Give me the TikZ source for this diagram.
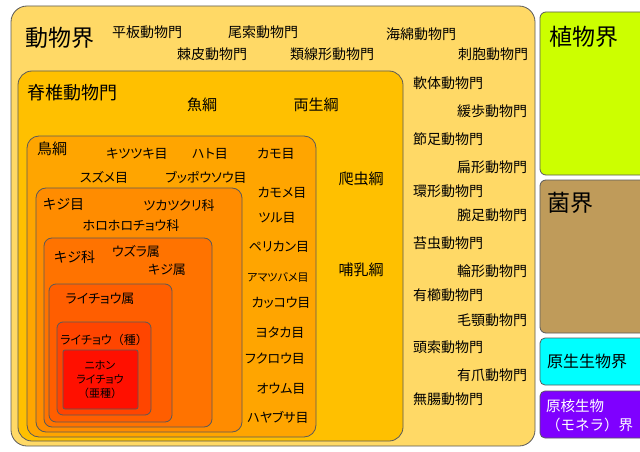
\documentclass[tikz,border=0pt]{standalone}
\usepackage{fontspec}
\setmainfont{Noto Sans CJK JP}[RawFeature={+palt}]
\newfontfamily\fullw{Noto Sans CJK JP}
\usetikzlibrary{positioning}
\definecolor{edge}{HTML}{5A5A5A}
\definecolor{animal}{HTML}{FFD966}
\definecolor{vert}{HTML}{FFC000}
\definecolor{bird}{HTML}{FFA500}
\definecolor{galli}{HTML}{FF8C00}
\definecolor{phasi}{HTML}{FF7300}
\definecolor{lagop}{HTML}{FF5E00}
\definecolor{mutus}{HTML}{FF4500}
\definecolor{japon}{HTML}{FF1000}
\definecolor{plant}{HTML}{CCFF00}
\definecolor{fungi}{HTML}{BF9B5A}
\definecolor{protist}{HTML}{00FFFF}
\definecolor{monera}{HTML}{7F00FF}
\tikzset{
  taxbox/.style={draw=edge,line width=0.8pt,fill=#1},
  kingdom/.style={font=\fontsize{23}{24}\selectfont,inner sep=0pt},
  phylum/.style={font=\fontsize{14}{15}\selectfont,inner sep=0pt},
  klass/.style={font=\fontsize{15}{16}\selectfont,inner sep=0pt},
  order/.style={font=\fontsize{13}{14}\selectfont,inner sep=0pt},
  tiny/.style={font=\fontsize{11}{14}\selectfont,inner sep=0pt,align=center},
}
\begin{document}
\begin{tikzpicture}[x=1pt,y=-1pt]
  \useasboundingbox (0,0) rectangle (640,452);
  \fill[white] (0,0) rectangle (640,452);
  % the other kingdoms, stacked on the right edge
  \draw[taxbox=plant,rounded corners=6pt] (540,12) rectangle (646,175);
  \draw[taxbox=fungi,rounded corners=6pt] (540,180) rectangle (646,333);
  \draw[taxbox=protist,rounded corners=5pt] (540,338) rectangle (646,385);
  \draw[taxbox=monera,rounded corners=5pt] (540,391) rectangle (646,438);
  % nested ranks down to the subspecies
  \draw[taxbox=animal,rounded corners=16pt] (11,6) rectangle (535,446);
  \draw[taxbox=vert,rounded corners=14pt] (18,71) rectangle (403,441);
  \draw[taxbox=bird,rounded corners=12pt] (27,136) rectangle (316,437);
  \draw[taxbox=galli,rounded corners=10pt] (36,188) rectangle (242,432);
  \draw[taxbox=phasi,rounded corners=8pt] (44,238) rectangle (212,427);
  \draw[taxbox=lagop,rounded corners=7pt] (49,284) rectangle (172,422);
  \draw[taxbox=mutus,rounded corners=6pt] (57,322) rectangle (151,415);
  \draw[taxbox=japon,rounded corners=2pt] (63,350) rectangle (138,409);

  \node[kingdom,anchor=west] (animalk) at (25,38) {動物界};
  \node[kingdom,anchor=west] (plantk) at (549,37) {植物界};
  \node[kingdom,anchor=west] (fungik) at (547,203) {菌界};
  \node[klass,font=\fontsize{16}{17}\selectfont,anchor=west] (protistk) at (547,361) {原生生物界};
  \node[klass,font=\fullw\fontsize{14.5}{19}\selectfont,anchor=north west,align=left,text=white] (monerak) at (546,399) {原核生物\\（モネラ）界};

  % phyla along the top
  \node[phylum] (placo) at (147,32) {平板動物門};
  \node[phylum] (uro) at (263,32) {尾索動物門};
  \node[phylum] (pori) at (421,34) {海綿動物門};
  \node[phylum] (echino) at (212,54) {棘皮動物門};
  \node[phylum] (nemato) at (332,54) {類線形動物門};
  \node[phylum] (cnida) at (493,54) {刺胞動物門};
  % phyla down the right side
  \foreach \t/\x/\y [count=\i] in {軟体動物門/413/83,緩歩動物門/457/111,
      節足動物門/413/139,扁形動物門/457/167,環形動物門/413/191,
      腕足動物門/457/215,苔虫動物門/413/243,輪形動物門/457/271,
      有櫛動物門/413/295,毛顎動物門/457/320,頭索動物門/413/347,
      有爪動物門/457/375,無腸動物門/413/399}
    \node[phylum,anchor=west] (phy\i) at (\x,\y) {\t};

  \node[klass,font=\fontsize{18}{19}\selectfont,anchor=west] (vertp) at (27,93) {脊椎動物門};
  \node[klass] (fish) at (202,105) {魚綱};
  \node[klass] (amphi) at (316,105) {両生綱};
  \node[klass] (rept) at (361,179) {爬虫綱};
  \node[klass] (mamm) at (361,270) {哺乳綱};

  \node[klass,anchor=west] (birdc) at (37,149) {鳥綱};
  \node[order] (pici) at (137,154) {キツツキ目};
  \node[order] (colu) at (210,154) {ハト目};
  \node[order] (anser) at (276,154) {カモ目};
  \node[order] (passer) at (104,177) {スズメ目};
  \node[order] (corac) at (206,177) {ブッポウソウ目};
  \node[order] (charad) at (282,193) {カモメ目};
  \node[order] (grui) at (277,218) {ツル目};
  \node[order] (pelec) at (279,247) {ペリカン目};
  \node[order,font=\fontsize{11}{12}\selectfont] (apodi) at (278,277) {アマツバメ目};
  \node[order] (cucul) at (281,303) {カッコウ目};
  \node[order] (caprim) at (280,333) {ヨタカ目};
  \node[order] (strigi) at (275,359) {フクロウ目};
  \node[order] (psitt) at (281,389) {オウム目};
  \node[order] (falco) at (278,417) {ハヤブサ目};

  \node[klass,font=\fontsize{14}{15}\selectfont,anchor=west] (gallio) at (43,204) {キジ目};
  \node[order] (megap) at (179,206) {ツカツクリ科};
  \node[order] (numid) at (131,226) {ホロホロチョウ科};
  \node[klass,font=\fontsize{14}{15}\selectfont,anchor=west] (phasif) at (54,257) {キジ科};
  \node[order] (coturn) at (136,252) {ウズラ属};
  \node[order] (phasig) at (167,270) {キジ属};
  \node[order] (lagopg) at (100,299) {ライチョウ属};
  \node[order,font=\fontsize{12}{13}\selectfont] (lagops) at (104,340) {ライチョウ{\fullw （}種{\fullw ）}};
  \node[tiny] (japons) at (100,380) {ニホン\\ライチョウ\\{\fullw （}亜種{\fullw ）}};
\end{tikzpicture}
\end{document}
